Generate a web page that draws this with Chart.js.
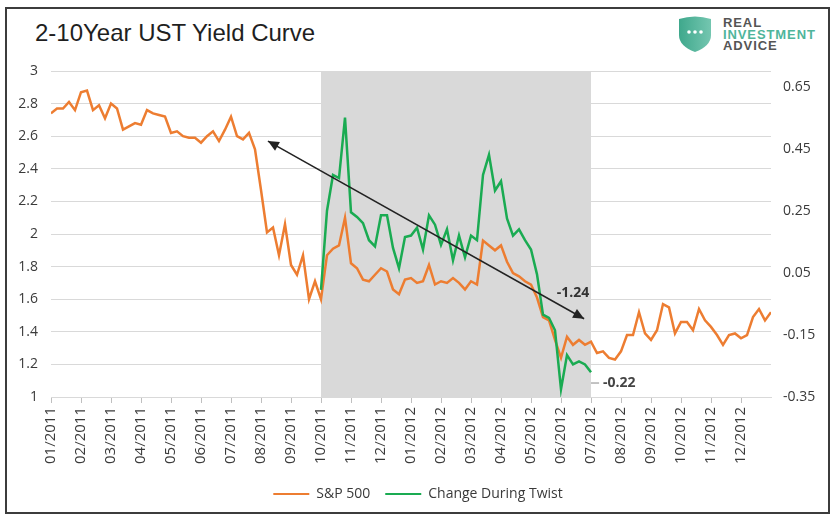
<!DOCTYPE html>
<html>
<head>
<meta charset="utf-8">
<title>2-10Year UST Yield Curve</title>
<script src="https://cdn.jsdelivr.net/npm/chart.js@4.4.1/dist/chart.umd.min.js"></script>
<style>
  html, body { margin: 0; padding: 0; background: #fff; }
  #wrap { position: relative; width: 836px; height: 523px; overflow: hidden; }
  #frame { position: absolute; left: 5px; top: 7px; width: 821px; height: 503px; border: 2px solid #3c3c3c; }
  #title { position: absolute; left: 35px; top: 21px; font: 24px "Liberation Sans", Arial, sans-serif; line-height: 24px; color: #1f1f1f; white-space: nowrap; }
  #logo { position: absolute; left: 678px; top: 15px; }
  #logoText { position: absolute; left: 723px; top: 17px; font: bold 13px "Liberation Sans", Arial, sans-serif; line-height: 11.5px; letter-spacing: 0.9px; color: #555; }
  #logoText .mid { color: #4fb59b; }
  #chart { position: absolute; left: 0; top: 0; }
</style>
</head>
<body>
<div id="wrap">
  <div id="frame"></div>
  <div id="title">2-10Year UST Yield Curve</div>
  <svg id="logo" width="34" height="38" viewBox="0 0 34 38">
    <defs>
      <linearGradient id="shield" x1="0" y1="0" x2="1" y2="0">
        <stop offset="0" stop-color="#3fa88c"/>
        <stop offset="1" stop-color="#74c6b0"/>
      </linearGradient>
    </defs>
    <path d="M1 4 Q17 -1 33 4 L33 20 Q33 31 17 37 Q1 31 1 20 Z" fill="url(#shield)"/>
    <circle cx="11" cy="17" r="1.8" fill="#fff"/>
    <circle cx="17" cy="17" r="1.8" fill="#fff"/>
    <circle cx="23" cy="17" r="1.8" fill="#fff"/>
  </svg>
  <div id="logoText">REAL<br><span class="mid">INVESTMENT</span><br>ADVICE</div>
  <canvas id="chart" width="836" height="523"></canvas>
</div>
<script>
// x axis: months since 01/2011, one point every 0.2 month
const STEP = 0.2;
const TWIST_START = 9;   // 10/2011
const TWIST_END = 18;    // 07/2012

const monthLabels = [
  '01/2011', '02/2011', '03/2011', '04/2011', '05/2011', '06/2011',
  '07/2011', '08/2011', '09/2011', '10/2011', '11/2011', '12/2011',
  '01/2012', '02/2012', '03/2012', '04/2012', '05/2012', '06/2012',
  '07/2012', '08/2012', '09/2012', '10/2012', '11/2012', '12/2012'
];

const leftTicks = [1, 1.2, 1.4, 1.6, 1.8, 2, 2.2, 2.4, 2.6, 2.8, 3];
const rightTicks = [-0.35, -0.15, 0.05, 0.25, 0.45, 0.65];

// 2-10 spread (left axis), labelled "S&P 500" in the legend
const spreadValues = [
  2.74, 2.77, 2.77, 2.81, 2.76, 2.87, 2.88, 2.76, 2.79, 2.71,
  2.80, 2.77, 2.64, 2.66, 2.68, 2.67, 2.76, 2.74, 2.73, 2.72,
  2.62, 2.63, 2.60, 2.59, 2.59, 2.56, 2.60, 2.63, 2.57, 2.64,
  2.72, 2.60, 2.58, 2.62, 2.52, 2.27, 2.01, 2.04, 1.87, 2.06,
  1.81, 1.75, 1.87, 1.60, 1.71, 1.60, 1.87, 1.91, 1.93, 2.10,
  1.82, 1.79, 1.72, 1.71, 1.75, 1.79, 1.77, 1.66, 1.63, 1.72,
  1.73, 1.70, 1.71, 1.81, 1.69, 1.71, 1.70, 1.73, 1.70, 1.66,
  1.71, 1.69, 1.96, 1.93, 1.90, 1.93, 1.83, 1.76, 1.74, 1.71,
  1.69, 1.61, 1.49, 1.47, 1.35, 1.24, 1.37, 1.32, 1.35, 1.32,
  1.34, 1.27, 1.28, 1.24, 1.23, 1.28, 1.38, 1.38, 1.52, 1.39,
  1.35, 1.41, 1.57, 1.55, 1.39, 1.46, 1.46, 1.41, 1.54, 1.47,
  1.43, 1.38, 1.32, 1.38, 1.39, 1.36, 1.38, 1.49, 1.54, 1.47,
  1.52
];

// change during the twist (right axis), starts at 10/2011
const twistValues = [
  -0.005, 0.25, 0.365, 0.355, 0.55, 0.245, 0.23, 0.21, 0.155, 0.135,
  0.235, 0.235, 0.13, 0.065, 0.165, 0.17, 0.195, 0.125, 0.235, 0.205,
  0.14, 0.19, 0.09, 0.17, 0.10, 0.17, 0.155, 0.365, 0.43, 0.315,
  0.345, 0.225, 0.17, 0.19, 0.155, 0.125, 0.045, -0.085, -0.095, -0.135,
  -0.325, -0.215, -0.245, -0.235, -0.245, -0.27
];

const ORANGE = '#ed7d31';
const GREEN = '#1aab52';
const FONT = '"Open Sans", "Liberation Sans", sans-serif';
const TEXT = '#3a3a3a';

// grey band for the twist period
const twistBand = {
  id: 'twistBand',
  beforeDatasetsDraw(chart) {
    const { ctx, chartArea, scales: { x } } = chart;
    const x0 = x.getPixelForValue(TWIST_START);
    const x1 = x.getPixelForValue(TWIST_END);
    ctx.save();
    ctx.fillStyle = '#d9d9d9';
    ctx.fillRect(x0, chartArea.top, x1 - x0, chartArea.bottom - chartArea.top);
    ctx.restore();
  }
};

function drawHead(ctx, tipX, tipY, fromX, fromY, len, half) {
  const a = Math.atan2(tipY - fromY, tipX - fromX);
  ctx.beginPath();
  ctx.moveTo(tipX, tipY);
  ctx.lineTo(tipX - len * Math.cos(a) + half * Math.sin(a), tipY - len * Math.sin(a) - half * Math.cos(a));
  ctx.lineTo(tipX - len * Math.cos(a) - half * Math.sin(a), tipY - len * Math.sin(a) + half * Math.cos(a));
  ctx.closePath();
  ctx.fill();
}

// trend arrow and the two value call-outs
const callouts = {
  id: 'callouts',
  afterDatasetsDraw(chart) {
    const { ctx, scales: { x, y, y1 } } = chart;
    const ax0 = x.getPixelForValue(7.23), ay0 = y.getPixelForValue(2.57);
    const ax1 = x.getPixelForValue(17.77), ay1 = y.getPixelForValue(1.48);
    ctx.save();
    ctx.strokeStyle = '#222';
    ctx.fillStyle = '#222';
    ctx.lineWidth = 1.5;
    ctx.beginPath();
    ctx.moveTo(ax0, ay0);
    ctx.lineTo(ax1, ay1);
    ctx.stroke();
    drawHead(ctx, ax0, ay0, ax1, ay1, 11, 5);
    drawHead(ctx, ax1, ay1, ax0, ay0, 11, 5);

    ctx.font = 'bold 14px ' + FONT;
    ctx.fillStyle = '#333';
    ctx.textAlign = 'center';
    ctx.textBaseline = 'middle';
    ctx.fillText('-1.24', x.getPixelForValue(17.4), y.getPixelForValue(1.64));

    const ly = y1.getPixelForValue(-0.305);
    ctx.strokeStyle = '#888';
    ctx.lineWidth = 1;
    ctx.beginPath();
    ctx.moveTo(x.getPixelForValue(18.0), ly);
    ctx.lineTo(x.getPixelForValue(18.27), ly);
    ctx.stroke();
    ctx.textAlign = 'left';
    ctx.fillStyle = '#444';
    ctx.fillText('-0.22', x.getPixelForValue(18.4), ly);
    ctx.restore();
  }
};

const spreadPoints = spreadValues.map((v, i) => ({ x: i * STEP, y: v }));
const twistPoints = twistValues.map((v, i) => ({ x: TWIST_START + i * STEP, y: v }));

new Chart(document.getElementById('chart'), {
  type: 'line',
  data: {
    datasets: [
      {
        label: 'S&P 500',
        data: spreadPoints,
        yAxisID: 'y',
        borderColor: ORANGE,
        backgroundColor: ORANGE,
        borderWidth: 2.5,
        pointRadius: 0,
        tension: 0,
        order: 1
      },
      {
        label: 'Change During Twist',
        data: twistPoints,
        yAxisID: 'y1',
        borderColor: GREEN,
        backgroundColor: GREEN,
        borderWidth: 2.5,
        pointRadius: 0,
        tension: 0,
        order: 0
      }
    ]
  },
  options: {
    responsive: false,
    animation: false,
    devicePixelRatio: 1,
    layout: { padding: { top: 71, right: 0, bottom: 12, left: 0 } },
    plugins: {
      tooltip: { enabled: false },
      legend: {
        position: 'bottom',
        labels: {
          boxWidth: 36,
          boxHeight: 2,
          padding: 15,
          color: TEXT,
          font: { family: FONT, size: 14 },
          sort: (a, b) => a.datasetIndex - b.datasetIndex,
          generateLabels(chart) {
            return Chart.defaults.plugins.legend.labels.generateLabels(chart).map(item => {
              item.fillStyle = item.strokeStyle;
              item.lineWidth = 0;
              return item;
            });
          }
        }
      }
    },
    scales: {
      x: {
        type: 'linear',
        min: 0,
        max: 24,
        afterBuildTicks(s) { s.ticks = monthLabels.map((_, i) => ({ value: i })); },
        afterFit(s) { s.height = 75; },
        ticks: {
          autoSkip: false,
          maxRotation: 90,
          minRotation: 90,
          padding: 4,
          color: TEXT,
          font: { family: FONT, size: 15 },
          callback: v => monthLabels[v] || ''
        },
        grid: { drawOnChartArea: false, drawTicks: true, tickLength: 6, color: '#bfbfbf' },
        border: { display: true, color: '#d9d9d9' }
      },
      y: {
        position: 'left',
        min: 1,
        max: 3,
        afterBuildTicks(s) { s.ticks = leftTicks.map(v => ({ value: v })); },
        afterFit(s) { s.width = 51; },
        ticks: {
          padding: 13,
          color: TEXT,
          font: { family: FONT, size: 14 },
          callback: v => String(Number(v.toFixed(1)))
        },
        grid: { color: '#d9d9d9', drawTicks: false },
        border: { display: false }
      },
      y1: {
        position: 'right',
        min: -0.35,
        max: 0.7,
        afterBuildTicks(s) { s.ticks = rightTicks.map(v => ({ value: v })); },
        afterFit(s) { s.width = 65; },
        ticks: {
          padding: 12,
          color: TEXT,
          font: { family: FONT, size: 14 },
          callback: v => v.toFixed(2)
        },
        grid: { drawOnChartArea: false, drawTicks: false },
        border: { display: false }
      }
    }
  },
  plugins: [twistBand, callouts]
});
</script>
</body>
</html>
